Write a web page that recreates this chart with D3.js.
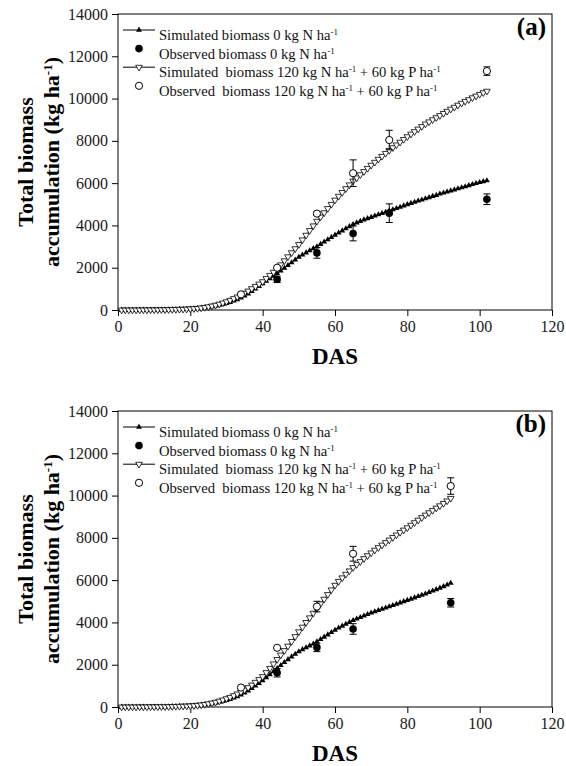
<!DOCTYPE html>
<html>
<head>
<meta charset="utf-8">
<script src="https://cdn.jsdelivr.net/npm/d3@7"></script>
<style>
  html, body { margin: 0; padding: 0; background: #fff; }
  svg text { font-family: "Liberation Serif", "Times New Roman", serif !important; white-space: pre; }
</style>
</head>
<body>
<div id="root"></div>
<script>
// Simulated daily biomass (kg/ha), day 1 onward
const simA0 = [
  0, 0, 0, 0, 0, 5, 5, 5, 10, 10,
  10, 15, 15, 20, 25, 30, 35, 40, 45, 55,
  65, 80, 95, 115, 140, 165, 195, 230, 270, 315,
  370, 430, 500, 580, 670, 770, 880, 1000, 1120, 1250,
  1370, 1490, 1610, 1730, 1850, 1980, 2110, 2240, 2370, 2500,
  2610, 2710, 2810, 2910, 3000, 3110, 3220, 3330, 3440, 3550,
  3650, 3750, 3850, 3950, 4050, 4130, 4200, 4270, 4330, 4390,
  4450, 4510, 4570, 4630, 4690, 4750, 4810, 4870, 4930, 4990,
  5050, 5100, 5160, 5210, 5270, 5320, 5380, 5430, 5490, 5540,
  5590, 5640, 5690, 5740, 5790, 5840, 5890, 5940, 5990, 6040,
  6080, 6120
];
const simA120 = [
  0, 0, 0, 0, 0, 5, 5, 5, 10, 10,
  10, 15, 15, 20, 25, 30, 35, 40, 45, 55,
  65, 80, 100, 125, 155, 190, 230, 280, 335, 395,
  460, 540, 620, 710, 800, 900, 1010, 1120, 1230, 1340,
  1490, 1640, 1790, 1950, 2140, 2330, 2520, 2710, 2900, 3100,
  3320, 3540, 3760, 3980, 4200, 4400, 4600, 4800, 5000, 5200,
  5380, 5560, 5740, 5920, 6100, 6250, 6400, 6550, 6700, 6850,
  6990, 7130, 7270, 7410, 7550, 7680, 7810, 7940, 8070, 8200,
  8320, 8440, 8560, 8680, 8800, 8900, 9000, 9100, 9200, 9300,
  9400, 9500, 9590, 9690, 9780, 9870, 9950, 10040, 10120, 10200,
  10280, 10350
];
const simB0 = [
  0, 0, 0, 0, 0, 5, 5, 5, 10, 10,
  10, 15, 15, 20, 25, 30, 35, 40, 45, 55,
  65, 80, 95, 115, 140, 165, 195, 230, 270, 315,
  370, 430, 500, 580, 670, 770, 880, 1000, 1120, 1250,
  1390, 1530, 1680, 1830, 1970, 2110, 2250, 2380, 2500, 2620,
  2720, 2810, 2900, 2990, 3090, 3200, 3310, 3420, 3530, 3640,
  3740, 3830, 3920, 4010, 4100, 4170, 4240, 4310, 4380, 4450,
  4510, 4570, 4630, 4690, 4750, 4810, 4870, 4930, 4990, 5050,
  5110, 5170, 5230, 5290, 5350, 5420, 5490, 5560, 5630, 5700,
  5780, 5860
];
const simB120 = [
  0, 0, 0, 0, 0, 5, 5, 5, 10, 10,
  10, 15, 15, 20, 25, 30, 35, 40, 45, 55,
  65, 80, 100, 125, 155, 190, 230, 280, 335, 395,
  460, 540, 620, 710, 810, 920, 1040, 1170, 1300, 1440,
  1630, 1830, 2040, 2250, 2460, 2670, 2880, 3100, 3330, 3560,
  3780, 4000, 4220, 4440, 4660, 4880, 5100, 5320, 5540, 5760,
  5940, 6110, 6280, 6440, 6600, 6740, 6880, 7020, 7160, 7290,
  7420, 7540, 7660, 7780, 7900, 8020, 8140, 8260, 8370, 8480,
  8600, 8720, 8840, 8960, 9080, 9190, 9300, 9410, 9520, 9630,
  9750, 9870
];

// Observed biomass (mean, error)
const obsA0Days = [44, 55, 65, 75, 102];
const obsA0Mean = [1450, 2700, 3620, 4580, 5240];
const obsA0Err = [150, 250, 350, 440, 250];
const obsA120Days = [34, 44, 55, 65, 75, 102];
const obsA120Mean = [740, 2000, 4560, 6470, 8040, 11300];
const obsA120Err = [0, 0, 80, 630, 460, 200];

const obsB0Days = [44, 55, 65, 92];
const obsB0Mean = [1620, 2820, 3690, 4930];
const obsB0Err = [200, 200, 250, 200];
const obsB120Days = [34, 44, 55, 65, 92];
const obsB120Mean = [920, 2800, 4750, 7250, 10450];
const obsB120Err = [0, 0, 250, 350, 390];

const xTicks = [0, 20, 40, 60, 80, 100, 120];
const yTicks = [0, 2000, 4000, 6000, 8000, 10000, 12000, 14000];

const legendItems = [
  { kind: 'sim0', parts: [['Simulated biomass 0 kg N ha'], ['-1', 1]] },
  { kind: 'obs0', parts: [['Observed biomass 0 kg N ha'], ['-1', 1]] },
  { kind: 'sim120', parts: [['Simulated  biomass 120 kg N ha'], ['-1', 1], [' + 60 kg P ha'], ['-1', 1]] },
  { kind: 'obs120', parts: [['Observed  biomass 120 kg N ha'], ['-1', 1], [' + 60 kg P ha'], ['-1', 1]] },
];

const panels = [
  { label: '(a)', top: 14, sim0: simA0, sim120: simA120,
    obs0: obsA0Days.map((d, i) => ({ day: d, mean: obsA0Mean[i], err: obsA0Err[i] })),
    obs120: obsA120Days.map((d, i) => ({ day: d, mean: obsA120Mean[i], err: obsA120Err[i] })) },
  { label: '(b)', top: 411, sim0: simB0, sim120: simB120,
    obs0: obsB0Days.map((d, i) => ({ day: d, mean: obsB0Mean[i], err: obsB0Err[i] })),
    obs120: obsB120Days.map((d, i) => ({ day: d, mean: obsB120Mean[i], err: obsB120Err[i] })) },
];

const svgWidth = 566;
const svgHeight = 766;
const plotLeft = 118;
const plotWidth = 434;
const plotHeight = 296;

const svg = d3.select('#root').append('svg')
  .attr('width', svgWidth)
  .attr('height', svgHeight)
  .style('display', 'block');

const xScale = d3.scaleLinear().domain([0, 120]).range([0, plotWidth]);
const yScale = d3.scaleLinear().domain([0, 14000]).range([plotHeight, 0]);

const triUp = d3.symbol().type(d3.symbolTriangle).size(15);
const triDown = d3.symbol().type(d3.symbolTriangle).size(19);

function addSup(textSel, parts, supSize, shift) {
  parts.forEach(([str, sup]) => {
    textSel.append('tspan')
      .attr('font-size', sup ? supSize : null)
      .attr('dy', sup ? -shift : (textSel.node().childNodes.length ? shift : 0))
      .text(str);
  });
}

function drawMarker(g, kind, x, y) {
  if (kind === 'sim0') {
    g.append('path').attr('d', triUp()).attr('transform', `translate(${x},${y})`).attr('fill', '#000');
  } else if (kind === 'sim120') {
    g.append('path').attr('d', triDown()).attr('transform', `translate(${x},${y}) rotate(180)`)
      .attr('fill', '#fff').attr('stroke', '#000').attr('stroke-width', 0.8);
  } else if (kind === 'obs0') {
    g.append('circle').attr('cx', x).attr('cy', y).attr('r', 3.8).attr('fill', '#000');
  } else {
    g.append('circle').attr('cx', x).attr('cy', y).attr('r', 3.6)
      .attr('fill', '#fff').attr('stroke', '#000').attr('stroke-width', 1);
  }
}

panels.forEach(p => {
  const chart = svg.append('g').attr('transform', `translate(${plotLeft}, ${p.top})`);

  // axes
  chart.append('g')
    .attr('transform', `translate(0, ${plotHeight})`)
    .call(d3.axisBottom(xScale).tickValues(xTicks).tickFormat(d3.format('d'))
      .tickSize(6).tickSizeOuter(0).tickPadding(5))
    .call(g => g.select('.domain').remove())
    .call(g => g.selectAll('text').attr('font-size', 16).attr('fill', '#1a1a1a'));

  chart.append('g')
    .call(d3.axisLeft(yScale).tickValues(yTicks).tickFormat(d3.format('d'))
      .tickSize(6).tickSizeOuter(0).tickPadding(4))
    .call(g => g.select('.domain').remove())
    .call(g => g.selectAll('text').attr('font-size', 16).attr('fill', '#1a1a1a'));

  chart.append('rect')
    .attr('width', plotWidth)
    .attr('height', plotHeight)
    .attr('fill', 'none')
    .attr('stroke', '#000')
    .attr('stroke-width', 1);

  // simulated curves
  [['sim0', p.sim0], ['sim120', p.sim120]].forEach(([kind, vals]) => {
    const pts = vals.map((v, i) => [xScale(i + 1), yScale(v)]);
    chart.append('path')
      .attr('d', d3.line()(pts))
      .attr('fill', 'none')
      .attr('stroke', '#000')
      .attr('stroke-width', 1);
    const mg = chart.append('g');
    pts.forEach(([x, y]) => drawMarker(mg, kind, x, y));
  });

  // observed with error bars
  [['obs0', p.obs0], ['obs120', p.obs120]].forEach(([kind, obs]) => {
    const g = chart.append('g');
    obs.forEach(o => {
      const x = xScale(o.day);
      if (o.err > 0) {
        const y1 = yScale(o.mean + o.err);
        const y2 = yScale(o.mean - o.err);
        g.append('line').attr('x1', x).attr('x2', x).attr('y1', y1).attr('y2', y2).attr('stroke', '#000');
        [y1, y2].forEach(y => g.append('line').attr('x1', x - 3.5).attr('x2', x + 3.5)
          .attr('y1', y).attr('y2', y).attr('stroke', '#000'));
      }
      drawMarker(g, kind, x, yScale(o.mean));
    });
  });

  // legend
  const legend = chart.append('g').attr('transform', 'translate(0, 16)');
  legendItems.forEach((item, i) => {
    const y = i * 18.6;
    const row = legend.append('g').attr('transform', `translate(0, ${y})`);
    if (item.kind.startsWith('sim')) {
      row.append('line').attr('x1', 5).attr('x2', 37).attr('y1', 0).attr('y2', 0).attr('stroke', '#000');
    }
    drawMarker(row, item.kind, 21, 0);
    const t = row.append('text')
      .attr('x', 41)
      .attr('y', 5)
      .attr('font-size', 14.6)
      .attr('fill', '#111');
    addSup(t, item.parts, 9, 5);
  });

  chart.append('text')
    .attr('x', plotWidth - 6)
    .attr('y', 21)
    .attr('text-anchor', 'end')
    .attr('font-size', 25)
    .attr('font-weight', 'bold')
    .text(p.label);

  // axis titles
  chart.append('text')
    .attr('x', xScale(60))
    .attr('y', plotHeight + 54)
    .attr('text-anchor', 'middle')
    .attr('font-size', 23)
    .attr('font-weight', 'bold')
    .text('DAS');

  chart.append('text')
    .attr('transform', `translate(${33 - plotLeft}, ${plotHeight / 2}) rotate(-90)`)
    .attr('text-anchor', 'middle')
    .attr('font-size', 22)
    .attr('font-weight', 'bold')
    .text('Total biomass');

  const t2 = chart.append('text')
    .attr('transform', `translate(${52 - plotLeft}, ${plotHeight / 2}) rotate(-90)`)
    .attr('text-anchor', 'middle')
    .attr('font-size', 22)
    .attr('font-weight', 'bold');
  addSup(t2, [['accumulation (kg ha'], ['-1', 1], [')']], 13, 7);
});
</script>
</body>
</html>
